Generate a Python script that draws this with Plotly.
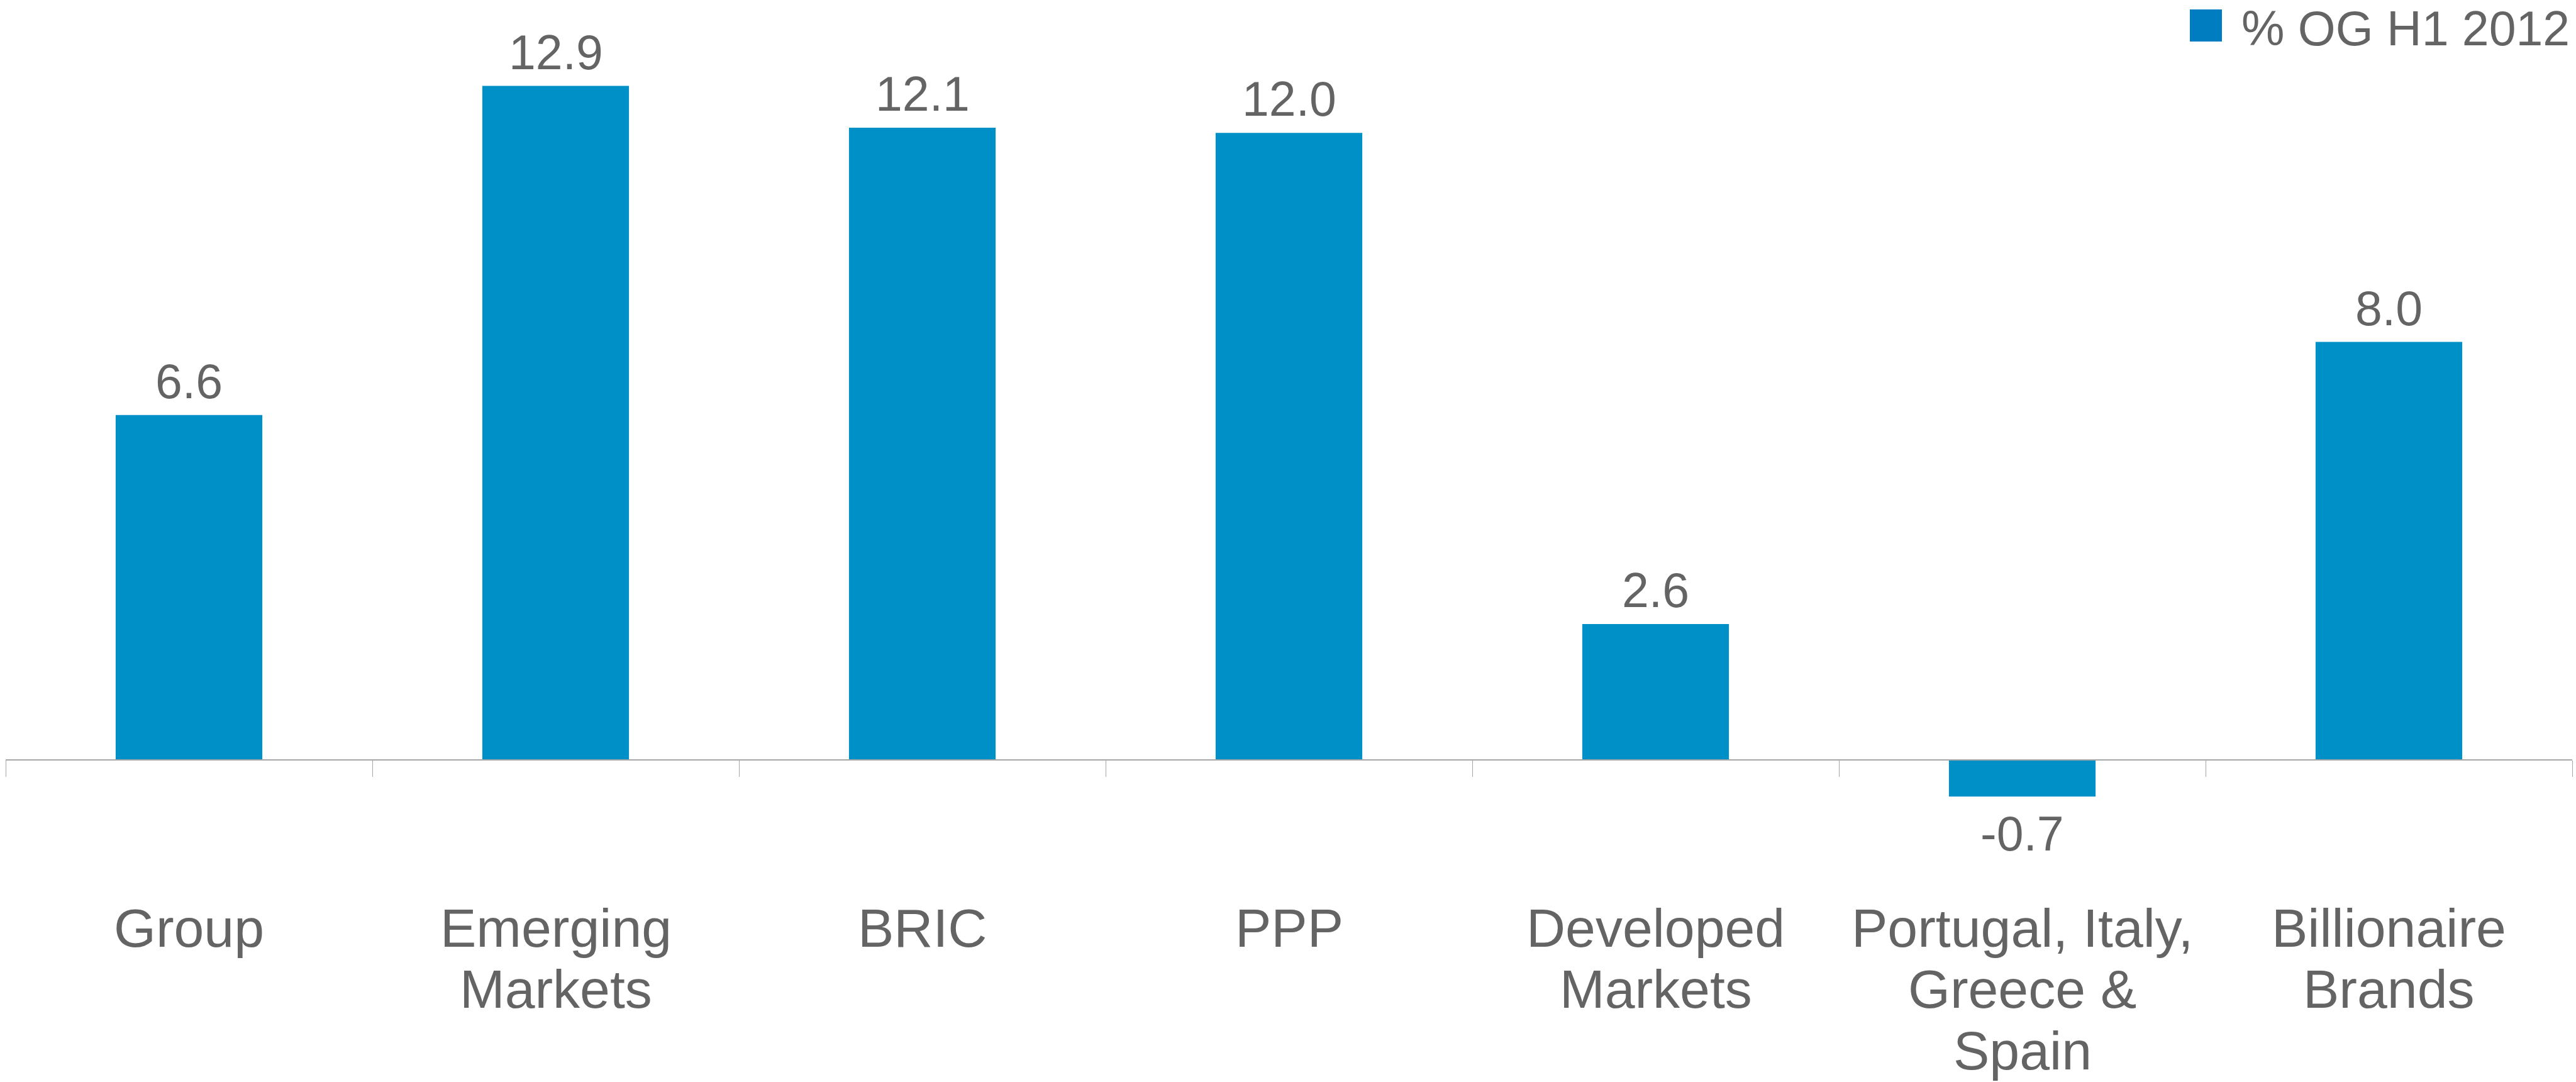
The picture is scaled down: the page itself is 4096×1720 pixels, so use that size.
import plotly.graph_objects as go

# Organic growth by region / portfolio segment, first half 2012
categories = [
    "Group",
    "Emerging\nMarkets",
    "BRIC",
    "PPP",
    "Developed\nMarkets",
    "Portugal, Italy,\nGreece &\nSpain",
    "Billionaire\nBrands",
]
growth = [6.6, 12.9, 12.1, 12.0, 2.6, -0.7, 8.0]
series_name = "% OG H1 2012"

# ---- styling / layout constants (pixels) ----
W, H = 4096, 1720
BAR_COLOR = "#0090C8"
KEY_COLOR = "#007CC1"
TEXT_COLOR = "#646464"
AXIS_COLOR = "#A6A6A6"
FONT = "Liberation Sans, Arial, sans-serif"

PLOT_LEFT, PLOT_RIGHT = 9, 4090      # horizontal extent of the category axis
ZERO_Y = 1208                        # vertical pixel where value 0 sits
PX_PER_UNIT = 83.06                  # vertical pixels per percentage point

VALUE_FONT = 77
CAT_FONT = 86
CAT_FIRST_BASELINE = 297.5           # below the zero line
CAT_LINE_STEP = 97.5

y_max = ZERO_Y / PX_PER_UNIT
y_min = -(H - ZERO_Y) / PX_PER_UNIT
plot_w = PLOT_RIGHT - PLOT_LEFT


def paper_x(px):
    return (px - PLOT_LEFT) / plot_w


def paper_y(px_from_top):
    return 1 - px_from_top / H


x_keys = [c.replace("\n", " ") for c in categories]

fig = go.Figure(
    go.Bar(
        x=x_keys,
        y=growth,
        width=0.4,
        name=series_name,
        marker=dict(color=BAR_COLOR, line=dict(width=0)),
        showlegend=False,
        hoverinfo="x+y",
    )
)

annotations = []

# value labels above (or below, for negatives) each bar
for key, v in zip(x_keys, growth):
    if v >= 0:
        annotations.append(dict(
            x=key, y=v, xref="x", yref="y", text=f"{v:.1f}",
            showarrow=False, xanchor="center", yanchor="bottom", yshift=9,
            font=dict(family=FONT, size=VALUE_FONT, color=TEXT_COLOR),
        ))
    else:
        annotations.append(dict(
            x=key, y=v, xref="x", yref="y", text=f"{v:.1f}",
            showarrow=False, xanchor="center", yanchor="top", yshift=-14,
            font=dict(family=FONT, size=VALUE_FONT, color=TEXT_COLOR),
        ))

# category names, one line at a time below the axis
descent = 0.212 * CAT_FONT + 1
for key, label in zip(x_keys, categories):
    for k, line in enumerate(label.split("\n")):
        annotations.append(dict(
            x=key, y=0, xref="x", yref="y", text=line,
            showarrow=False, xanchor="center", yanchor="bottom",
            yshift=-(CAT_FIRST_BASELINE + k * CAT_LINE_STEP + descent),
            font=dict(family=FONT, size=CAT_FONT, color=TEXT_COLOR),
        ))

# legend key text
annotations.append(dict(
    x=paper_x(3562), y=1, xref="paper", yref="paper",
    text=series_name, showarrow=False, xanchor="left", yanchor="top",
    font=dict(family=FONT, size=VALUE_FONT, color=TEXT_COLOR),
))

shapes = [dict(
    type="rect", xref="paper", yref="paper",
    x0=paper_x(3482), x1=paper_x(3533), y0=paper_y(66), y1=paper_y(15),
    fillcolor=KEY_COLOR, line=dict(width=0), layer="above",
)]

fig.update_layout(
    width=W, height=H,
    margin=dict(l=PLOT_LEFT, r=W - PLOT_RIGHT, t=0, b=0, pad=0),
    paper_bgcolor="white", plot_bgcolor="white",
    font=dict(family=FONT, color=TEXT_COLOR),
    annotations=annotations,
    shapes=shapes,
    bargap=0.6,
    xaxis=dict(
        type="category",
        range=[-0.5, len(categories) - 0.5],
        anchor="free",
        position=(H - ZERO_Y) / H,
        showline=True, linecolor=AXIS_COLOR, linewidth=1.5,
        ticks="outside", tickson="boundaries", ticklen=26, tickwidth=1, tickcolor=AXIS_COLOR,
        showticklabels=False, showgrid=False, zeroline=False,
        fixedrange=True,
    ),
    yaxis=dict(
        range=[y_min, y_max],
        visible=False, showgrid=False, zeroline=False, fixedrange=True,
    ),
)

fig.write_html("out.html")
